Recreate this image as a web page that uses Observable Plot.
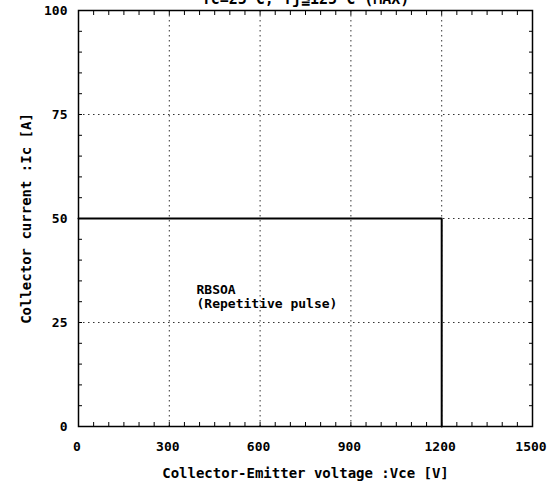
<!DOCTYPE html>
<html>
<head>
<meta charset="utf-8">
<script src="https://cdn.jsdelivr.net/npm/d3@7"></script>
<script src="https://cdn.jsdelivr.net/npm/@observablehq/plot@0.6"></script>
<style>
  html, body { margin: 0; padding: 0; background: white; }
  #chart svg { display: block; }
</style>
</head>
<body>
<div id="chart"></div>
<script>
// Data (RBSOA boundary)
const vce = [0, 1200, 1200];
const ic = [50, 50, 0];

// Axis ticks
const xTicks = [0, 300, 600, 900, 1200, 1500];
const yTicks = [0, 25, 50, 75, 100];
const xMinorStep = 50;
const yMinorStep = 5;

// Texts
const titleText = ["Tc=25°C, Tj≦125°C (MAX)"];
const xLabel = ["Collector-Emitter voltage :Vce [V]"];
const yLabel = ["Collector current :Ic [A]"];
const annotX = [390];
const annotY = [31.3];
const annotText = ["RBSOA\n(Repetitive pulse)"];

const rows = vce.map((v, i) => ({vce: v, ic: ic[i]}));
const annots = annotText.map((t, i) => ({x: annotX[i], y: annotY[i], t}));
const xMinor = d3.range(0, 1500 + 1, xMinorStep);
const yMinor = d3.range(0, 100 + 1, yMinorStep);

const font = "DejaVu Sans Mono";
const gridStyle = {stroke: "black", strokeOpacity: 0.8, strokeWidth: 1, strokeDasharray: "1.5,3.5"};

const chart = Plot.plot({
  width: 548,
  height: 481,
  marginLeft: 78,
  marginRight: 16,
  marginTop: 10,
  marginBottom: 55,
  x: {domain: [0, 1500]},
  y: {domain: [0, 100]},
  style: {fontFamily: font, fontSize: "14px", color: "black", background: "white", overflow: "visible"},
  marks: [
    Plot.gridX(xTicks.slice(1, -1), gridStyle),
    Plot.gridY(yTicks.slice(1, -1), gridStyle),
    // inward minor ticks on all four sides
    Plot.axisX(xMinor, {anchor: "bottom", tickSize: -4, tickFormat: () => "", label: null, strokeWidth: 1}),
    Plot.axisX(xMinor, {anchor: "top", tickSize: -4, tickFormat: () => "", label: null, strokeWidth: 1}),
    Plot.axisY(yMinor, {anchor: "left", tickSize: -4, tickFormat: () => "", label: null, strokeWidth: 1}),
    Plot.axisY(yMinor, {anchor: "right", tickSize: -4, tickFormat: () => "", label: null, strokeWidth: 1}),
    // major labels
    Plot.axisX(xTicks, {anchor: "bottom", tickSize: 0, tickPadding: 15, label: null, fontSize: 13, fontWeight: "bold", tickFormat: d => String(d), dx: -1.5}),
    Plot.axisY(yTicks, {anchor: "left", tickSize: 0, tickPadding: 11, label: null, fontSize: 13, fontWeight: "bold", tickFormat: d => String(d)}),
    Plot.frame({stroke: "black", strokeWidth: 1.5}),
    Plot.line(rows, {x: "vce", y: "ic", stroke: "black", strokeWidth: 2}),
    Plot.text(annots, {x: "x", y: "y", text: "t", textAnchor: "start", lineAnchor: "middle", lineHeight: 1.1, fontSize: 13, fontWeight: 600, fill: "black"}),
    Plot.text(xLabel, {text: d => d, frameAnchor: "bottom", dy: 47, textAnchor: "middle", lineAnchor: "middle", fontSize: 14, fontWeight: 600, fill: "black"}),
    Plot.text(yLabel, {text: d => d, frameAnchor: "left", dx: -52, rotate: -90, textAnchor: "middle", lineAnchor: "middle", fontSize: 14, fontWeight: 600, fill: "black"}),
    Plot.text(titleText, {text: d => d, frameAnchor: "top", dy: -7, textAnchor: "middle", lineAnchor: "bottom", fontSize: 15, fontWeight: "bold", fill: "black"})
  ]
});
document.getElementById("chart").appendChild(chart);
</script>
</body>
</html>
